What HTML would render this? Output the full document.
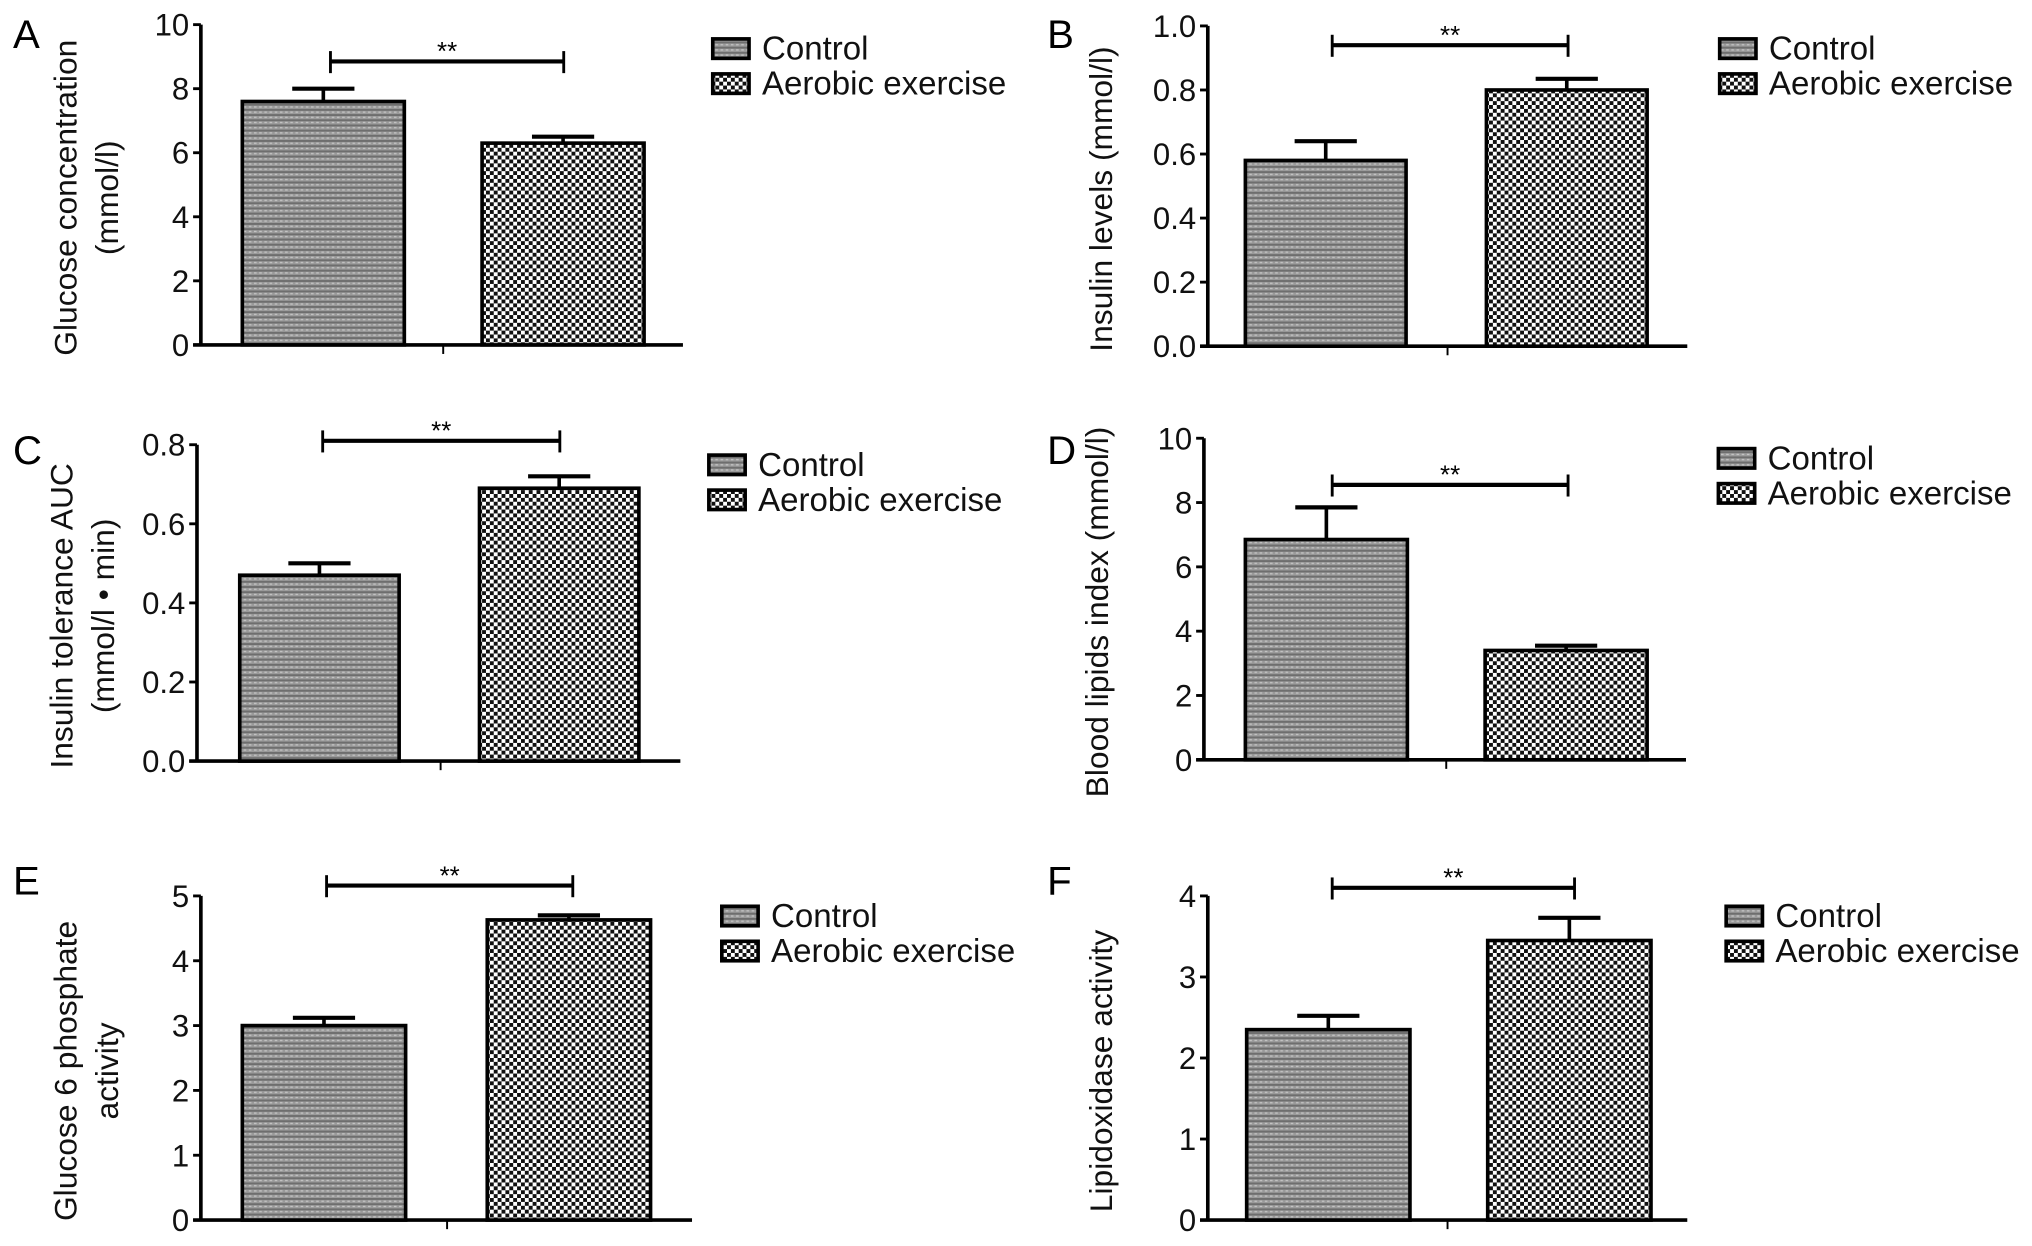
<!DOCTYPE html>
<html><head><meta charset="utf-8"><style>
html,body{margin:0;padding:0;background:#fff;}
svg{display:block;font-family:"Liberation Sans",Arial,sans-serif;}
</style></head><body>
<svg id="fig" width="2032" height="1246" viewBox="0 0 1568 961" preserveAspectRatio="none" xmlns="http://www.w3.org/2000/svg">
<defs>
<pattern id="pCtrl" width="4" height="4" patternUnits="userSpaceOnUse">
<rect width="4" height="4" fill="#9a9a9a"/><rect y="0" width="4" height="1.5" fill="#6e6e6e"/><rect x="0" y="2" width="2" height="1" fill="#c4c4c4"/>
</pattern>
<pattern id="pAer" width="6" height="6" patternUnits="userSpaceOnUse">
<rect width="6" height="6" fill="#fff"/><rect width="3" height="3" fill="#111"/><rect x="3" y="3" width="3" height="3" fill="#111"/>
</pattern>
</defs>
</svg>
<script>
const panelLetters=["A","B","C","D","E","F"];
const controlMeans=[7.6,0.58,0.47,6.85,3.0,2.35];
const controlErr=[8.0,0.64,0.50,7.85,3.12,2.52];
const aerobicMeans=[6.3,0.80,0.69,3.4,4.63,3.45];
const aerobicErr=[6.5,0.835,0.72,3.55,4.70,3.73];
const sigLevels=[8.85,0.94,0.81,8.55,5.16,4.1];
const axisMax=[10,1.0,0.8,10,5,4];
const tickStep=[2,0.2,0.2,2,1,1];
const tickDecimals=[0,1,1,0,0,0];
const yTitles=[["Glucose concentration","(mmol/l)"],["Insulin levels (mmol/l)"],["Insulin tolerance AUC","(mmol/l \u2022 min)"],["Blood lipids index (mmol/l)"],["Glucose 6 phosphate","activity"],["Lipidoxidase activity"]];
const legendLabels=["Control","Aerobic exercise"];

const layout=[
{ax:155,y0:266,yt:19,b:[187,372],bw:125,right:527,mid:342,sx:[255,435],lx:550,ly:30,L:[10,37]},
{ax:932,y0:267,yt:20,b:[961,1147],bw:124,right:1302,mid:1117,sx:[1028,1210],lx:1327,ly:30,L:[808,37]},
{ax:152,y0:587,yt:343,b:[185,370],bw:123,right:525,mid:340,sx:[249,432],lx:547,ly:351,L:[10,358]},
{ax:929,y0:586,yt:338,b:[961,1146],bw:125,right:1301,mid:1116,sx:[1028,1210],lx:1326,ly:346,L:[808,358]},
{ax:155,y0:941,yt:691,b:[187,376],bw:126,right:534,mid:345,sx:[252,442],lx:557,ly:699,L:[10,690]},
{ax:932,y0:941,yt:691,b:[962,1148],bw:126,right:1302,mid:1117,sx:[1028,1215],lx:1332,ly:699,L:[808,690]}
];
const svg=document.getElementById('fig');
const NS="http://www.w3.org/2000/svg";
function mk(t,a,p){const e=document.createElementNS(NS,t);for(const k in a)e.setAttribute(k,a[k]);(p||svg).appendChild(e);return e;}
function line(g,x1,y1,x2,y2,w){return mk('line',{x1,y1,x2,y2,stroke:'#000','stroke-width':w||2.8},g);}

for(let i=0;i<6;i++){
const c=layout[i];
const yS=v=>c.y0-(v/axisMax[i])*(c.y0-c.yt);
const g=mk('g',{});


const lt=mk('text',{x:c.L[0],y:c.L[1],'font-size':31},g);lt.textContent=panelLetters[i];


const ya=line(g,c.ax,c.yt,c.ax,c.y0+1,2.8);


const n=Math.round(axisMax[i]/tickStep[i]);
for(let k=0;k<=n;k++){const v=k*tickStep[i];const y=yS(v);
line(g,c.ax-6,y,c.ax,y,2.2);
const t=mk('text',{x:c.ax-9,y:y+8.5,'font-size':24,'text-anchor':'end',fill:'#111'},g);t.textContent=v.toFixed(tickDecimals[i]);

}
const xa=line(g,c.ax-6,c.y0,c.right,c.y0,2.8);


line(g,c.mid,c.y0,c.mid,c.y0+7,1.5);
const cy=(c.y0+c.yt)/2+10;const tl=yTitles[i];
tl.forEach((s,j)=>{const x=tl.length==2?c.ax-96+j*32:c.ax-74;
const t=mk('text',{x:x,y:cy,'font-size':24.5,'text-anchor':'middle',transform:`rotate(-90 ${x} ${cy})`,fill:'#111'},g);t.textContent=s;

});
const means=[controlMeans[i],aerobicMeans[i]],errs=[controlErr[i],aerobicErr[i]],fills=['url(#pCtrl)','url(#pAer)'];
for(let b=0;b<2;b++){const x=c.b[b],y=yS(means[b]),ye=yS(errs[b]),cx=x+c.bw/2;
line(g,cx,y,cx,ye,2.8);line(g,cx-24,ye,cx+24,ye,3.2);
const r=mk('rect',{x:x,y:y,width:c.bw,height:c.y0-y,fill:fills[b],stroke:'#000','stroke-width':2.8},g);

}
const sy=yS(sigLevels[i]);
const sl=line(g,c.sx[0],sy,c.sx[1],sy,3.2);


line(g,c.sx[0],sy-8,c.sx[0],sy+9,2.2);line(g,c.sx[1],sy-8,c.sx[1],sy+9,2.2);
const st=mk('text',{x:(c.sx[0]+c.sx[1])/2,y:sy-1,'font-size':20,'text-anchor':'middle'},g);st.textContent='**';


for(let b=0;b<2;b++){const y=c.ly+b*27;
const lg=mk('g',{},g);


mk('rect',{x:c.lx,y:y,width:28,height:15,fill:fills[b],stroke:'#000','stroke-width':2.8},lg);
const t=mk('text',{x:c.lx+38,y:y+16,'font-size':25.5,fill:'#111'},lg);t.textContent=legendLabels[b];}
}
</script>
</body></html>
